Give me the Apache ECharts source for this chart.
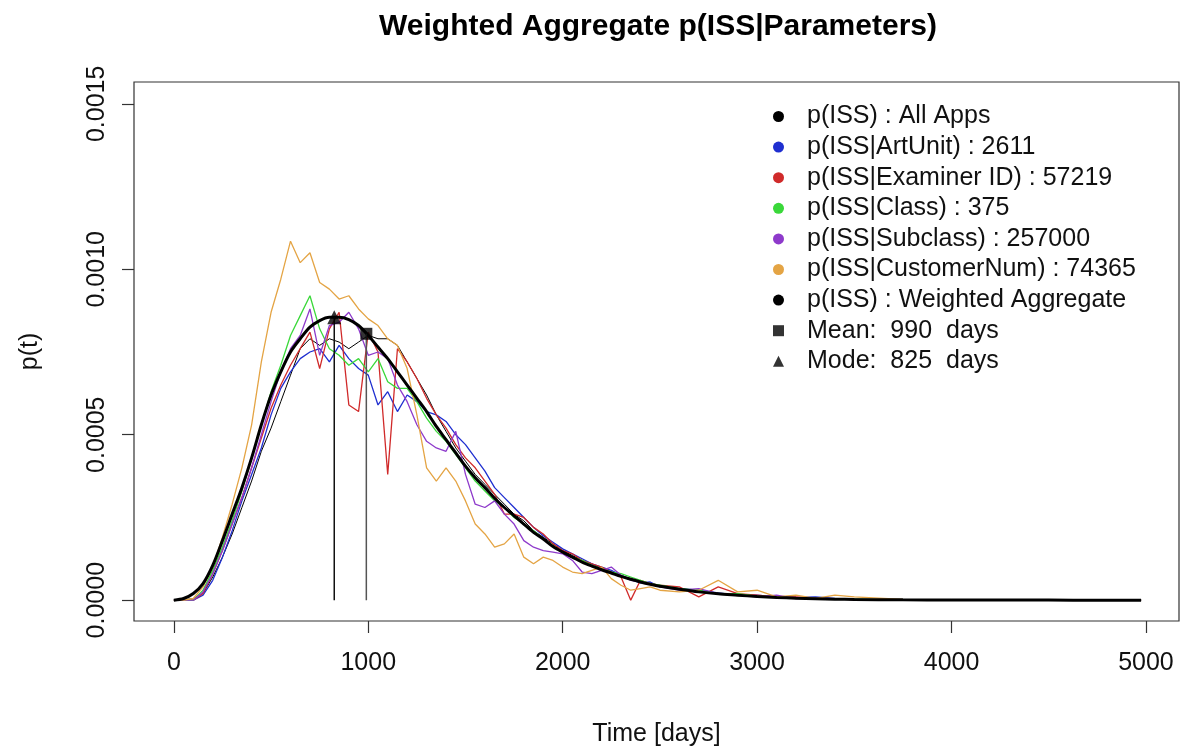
<!DOCTYPE html>
<html>
<head>
<meta charset="utf-8">
<script src="https://cdn.jsdelivr.net/npm/echarts@6/dist/echarts.min.js"></script>
<style>
html,body{margin:0;padding:0;background:#fff;}
#chart{width:1181px;height:752px;}
</style>
</head>
<body>
<div id="chart"></div>
<script>
// ---------------- data (p values in units of 1e-4) ----------------
const T = [0,50,100,150,200,250,300,350,400,450,500,550,600,650,700,750,800,850,900,950,
  1000,1050,1100,1150,1200,1250,1300,1350,1400,1450,1500,1550,1600,1650,1700,1750,1800,1850,1900,1950,
  2000,2050,2100,2150,2200,2250,2300,2350,2400,2450,2500,
  2600,2700,2800,2900,3000,3100,3200,3300,3400,3500,
  3750,4000,4250,4500,4750,4975];

const pWeighted = [0,0.05,0.2,0.5,1.05,1.8,2.6,3.4,4.3,5.3,6.2,6.9,7.5,7.9,8.25,8.45,8.55,8.55,8.48,8.3,
  8.0,7.65,7.3,6.9,6.5,6.1,5.7,5.25,4.85,4.45,4.05,3.7,3.4,3.08,2.8,2.55,2.3,2.05,1.85,1.62,
  1.45,1.3,1.15,1.03,0.92,0.82,0.72,0.63,0.55,0.48,0.42,
  0.33,0.25,0.19,0.15,0.11,0.08,0.06,0.045,0.03,0.02,
  0.01,0.005,0.002,0.001,0,0];

const pAllApps = [0,0,0.05,0.2,0.7,1.3,2.0,2.8,3.6,4.5,5.2,6.0,6.8,7.6,7.9,7.7,7.9,7.8,7.6,7.8,
  8.0,7.9,7.9,7.7,7.2,6.7,6.2,5.6,5.1,4.6,4.2,3.8,3.5,3.2,2.9,2.6,2.4,2.1,1.9,1.7,
  1.5,1.35,1.2,1.1,0.95,0.85,0.75,0.65,0.55,0.5,0.43,
  0.35,0.27,0.2,0.16,0.12,0.09,0.07,0.05,0.04,0.03,
  0.01,0.005,0,0,0,0];

const pArtUnit = [0,0,0,0.15,0.6,1.3,2.1,3.0,3.8,4.6,5.6,6.4,6.9,7.3,7.5,7.6,7.2,7.7,7.3,7.0,
  6.8,5.9,6.3,5.7,6.2,6.0,5.7,5.6,5.4,5.0,4.7,4.3,3.9,3.4,3.1,2.8,2.5,2.2,1.95,1.75,
  1.55,1.4,1.25,1.1,1.0,0.9,0.75,0.62,0.52,0.55,0.4,
  0.35,0.3,0.22,0.15,0.15,0.1,0.08,0.1,0.05,0.03,
  0.01,0,0,0,0,0];

const pExaminer = [0,0,0,0.2,0.8,1.5,2.3,3.1,4.0,4.9,5.8,6.5,7.1,7.6,8.1,7.0,8.2,8.7,5.9,5.7,
  8.1,7.5,3.8,7.6,7.2,6.7,6.1,5.6,5.2,4.7,4.3,4.0,3.6,3.2,2.6,2.6,2.5,2.2,2.0,1.7,
  1.5,1.4,1.2,1.1,1.0,0.85,0.7,0.0,0.6,0.5,0.45,
  0.4,0.1,0.4,0.2,0.15,0.1,0.1,0.05,0.04,0.02,
  0,0,0,0,0,0];

const pClass = [0,0,0,0.3,0.9,1.6,2.4,3.3,4.3,5.3,6.3,7.1,8.0,8.6,9.2,8.2,7.6,7.4,7.1,7.3,
  6.9,7.3,6.6,6.4,6.4,6.0,5.5,5.1,4.8,4.4,4.0,3.6,3.3,3.0,2.8,2.5,2.3,2.1,1.85,1.65,
  1.45,1.3,1.2,1.05,0.95,0.85,0.8,0.7,0.6,0.5,0.45,
  0.35,0.3,0.2,0.2,0.12,0.1,0.07,0.05,0.04,0.03,
  0.01,0,0,0,0,0];

const pSubclass = [0,0,0,0.25,0.8,1.5,2.3,3.1,4.0,5.0,6.0,6.9,7.6,8.0,8.8,7.4,8.3,8.4,8.7,8.2,
  7.4,7.5,7.3,6.5,6.0,5.3,4.8,4.6,4.5,5.1,3.8,2.9,2.8,3.0,2.6,2.3,1.8,1.6,1.5,1.45,
  1.4,1.2,0.85,0.8,0.9,1.0,0.75,0.6,0.55,0.5,0.4,
  0.3,0.35,0.2,0.15,0.1,0.15,0.05,0.05,0.04,0.02,
  0,0,0,0,0,0];

const pCustomer = [0,0,0.05,0.4,1.0,1.9,2.9,4.0,5.3,7.2,8.7,9.7,10.85,10.2,10.5,9.6,9.4,9.1,9.2,8.8,
  8.5,8.3,7.9,7.7,7.0,5.6,4.0,3.6,4.0,3.6,3.0,2.3,2.0,1.6,1.7,2.0,1.3,1.1,1.3,1.2,
  1.0,0.85,0.8,0.9,1.0,0.65,0.45,0.3,0.35,0.4,0.3,
  0.25,0.3,0.6,0.25,0.3,0.1,0.15,0.05,0.15,0.1,
  0.02,0,0,0,0,0];

const UNIT = 1e-4;
const meanDay = 990, meanP = 8.05;
const modeDay = 825, modeP = 8.55;

const seriesNames = [
  'p(ISS) : All Apps',
  'p(ISS|ArtUnit) : 2611',
  'p(ISS|Examiner ID) : 57219',
  'p(ISS|Class) : 375',
  'p(ISS|Subclass) : 257000',
  'p(ISS|CustomerNum) : 74365',
  'p(ISS) : Weighted Aggregate',
  'Mean:  990  days',
  'Mode:  825  days'
];
const xTicks = [0, 1000, 2000, 3000, 4000, 5000];
const yTicks = [0, 0.0005, 0.0010, 0.0015];

// ---------------- chart ----------------
const FONT = '"Liberation Sans", Arial, Helvetica, sans-serif';
const pairs = arr => T.map((t, i) => [t, arr[i] * UNIT]);

const colored = [
  {name: seriesNames[1], data: pArtUnit,  color: '#1f2fd0'},
  {name: seriesNames[2], data: pExaminer, color: '#d02a2a'},
  {name: seriesNames[3], data: pClass,    color: '#3ad83a'},
  {name: seriesNames[4], data: pSubclass, color: '#8e3acb'},
  {name: seriesNames[5], data: pCustomer, color: '#e4a444'}
];

const series = [];
series.push({
  name: seriesNames[0], type: 'line', data: pairs(pAllApps), showSymbol: false,
  color: '#000', itemStyle: {color: '#000'}, lineStyle: {color: '#000', width: 1}, z: 2
});
colored.forEach(s => series.push({
  name: s.name, type: 'line', data: pairs(s.data), showSymbol: false,
  color: s.color, itemStyle: {color: s.color}, lineStyle: {color: s.color, width: 1.3}, z: 2
}));
series.push({
  name: seriesNames[6], type: 'line', data: pairs(pWeighted), showSymbol: false, smooth: 0.3,
  color: '#000', itemStyle: {color: '#000'}, lineStyle: {color: '#000', width: 3}, z: 4
});
series.push({
  name: 'modeLine', type: 'line', data: [[modeDay, 0], [modeDay, modeP * UNIT]], showSymbol: false,
  lineStyle: {color: '#111', width: 1.5}, z: 5
});
series.push({
  name: 'meanLine', type: 'line', data: [[meanDay, 0], [meanDay, meanP * UNIT]], showSymbol: false,
  lineStyle: {color: '#555', width: 1.5}, z: 5
});
series.push({
  name: seriesNames[7], type: 'scatter', data: [[meanDay, meanP * UNIT]], symbol: 'rect', symbolSize: 12,
  color: '#000', itemStyle: {color: '#000'}, z: 6
});
series.push({
  name: seriesNames[8], type: 'scatter', data: [[modeDay, modeP * UNIT]], symbol: 'triangle', symbolSize: 14,
  color: '#000', itemStyle: {color: '#000'}, z: 6
});

const legendIcons = ['circle','circle','circle','circle','circle','circle','circle','rect','triangle'];

const option = {
  animation: false,
  backgroundColor: '#fff',
  textStyle: {fontFamily: FONT},
  title: {
    text: 'Weighted Aggregate p(ISS|Parameters)',
    left: 658, top: 12, padding: 0, textAlign: 'center',
    textStyle: {fontFamily: FONT, fontSize: 30, fontWeight: 'bold', color: '#000'}
  },
  legend: {
    orient: 'vertical', left: 773, top: 104, padding: 0,
    itemWidth: 11, itemHeight: 11, itemGap: 5.6, selectedMode: false,
    textStyle: {fontFamily: FONT, fontSize: 25, lineHeight: 25, color: '#111', padding: [0, 0, 0, 18]},
    data: seriesNames.map((n, i) => ({name: n, icon: legendIcons[i]}))
  },
  grid: {
    left: 134, top: 82, width: 1045, height: 542,
    show: true, borderColor: '#333', borderWidth: 1.2, backgroundColor: 'transparent'
  },
  xAxis: {
    type: 'value', min: -205, max: 5170,
    name: 'Time [days]', nameLocation: 'middle', nameGap: 101,
    nameTextStyle: {fontFamily: FONT, fontSize: 25, color: '#111'},
    axisLine: {show: false, onZero: false},
    axisTick: {show: true, length: 12, customValues: xTicks, lineStyle: {color: '#333', width: 1.2}},
    axisLabel: {customValues: xTicks, margin: 30, fontFamily: FONT, fontSize: 25, color: '#111',
      formatter: v => String(v)},
    splitLine: {show: false}
  },
  yAxis: {
    type: 'value', min: -0.000063, max: 0.001566,
    name: 'p(t)', nameLocation: 'middle', nameGap: 91, nameRotate: 90,
    nameTextStyle: {fontFamily: FONT, fontSize: 25, color: '#111'},
    axisLine: {show: false, onZero: false},
    axisTick: {show: true, length: 12, customValues: yTicks, lineStyle: {color: '#333', width: 1.2}},
    axisLabel: {customValues: yTicks, rotate: 90, margin: 24, fontFamily: FONT, fontSize: 25, color: '#111',
      formatter: v => Number(v).toFixed(4)},
    splitLine: {show: false}
  },
  series: series
};

const chart = echarts.init(document.getElementById('chart'), null, {renderer: 'canvas'});
chart.setOption(option);
</script>
</body>
</html>
